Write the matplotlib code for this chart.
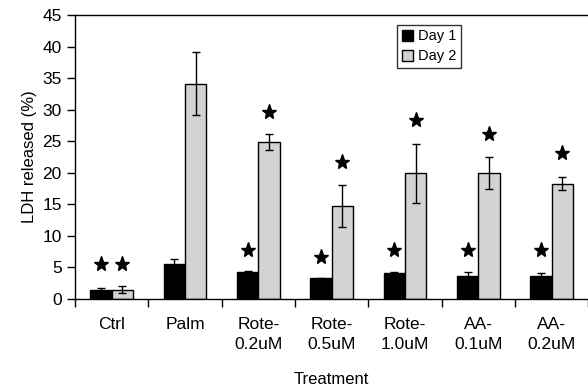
import matplotlib
matplotlib.use("Agg")
import matplotlib.pyplot as plt
import numpy as np

plt.rcParams['font.family'] = ['Liberation Sans', 'DejaVu Sans']

categories = ["Ctrl", "Palm", "Rote-\n0.2uM", "Rote-\n0.5uM", "Rote-\n1.0uM",
              "AA-\n0.1uM", "AA-\n0.2uM"]
day1 = [1.4, 5.5, 4.3, 3.3, 4.1, 3.7, 3.7]
day1_err = [0.4, 0.9, 0.2, 0.1, 0.1, 0.5, 0.4]
day2 = [1.5, 34.1, 24.9, 14.7, 19.9, 20.0, 18.3]
day2_err = [0.6, 5.0, 1.3, 3.3, 4.7, 2.5, 1.0]
# significance stars (y position, None = no star)
star1 = [5.5, None, 7.8, 6.7, 7.8, 7.8, 7.8]
star2 = [5.5, None, 29.6, 21.7, 28.3, 26.1, 23.1]

fig = plt.figure(figsize=(5.88, 3.91), dpi=100)
ax = fig.add_axes([0.1276, 0.2353, 0.873, 0.7263])

x = np.arange(len(categories)) + 0.5
w = 0.29
ax.bar(x - w / 2, day1, w, color="black", edgecolor="black", lw=1,
       label="Day 1", zorder=2)
ax.bar(x + w / 2, day2, w, color="#d3d3d3", edgecolor="black", lw=1,
       label="Day 2", zorder=2)
ax.errorbar(x - w / 2, day1, yerr=day1_err, fmt="none", ecolor="black",
            elinewidth=1, capsize=3, capthick=1, zorder=3)
ax.errorbar(x + w / 2, day2, yerr=day2_err, fmt="none", ecolor="black",
            elinewidth=1, capsize=3, capthick=1, zorder=3)

for i in range(len(categories)):
    if star1[i] is not None:
        ax.plot(x[i] - w / 2, star1[i], marker="*", color="black", ms=11,
                mec="black", ls="none", zorder=4)
    if star2[i] is not None:
        ax.plot(x[i] + w / 2, star2[i], marker="*", color="black", ms=11,
                mec="black", ls="none", zorder=4)

ax.set_xlim(0, len(categories))
ax.set_ylim(0, 45)
ax.set_yticks(np.arange(0, 46, 5))
ax.set_xticks(np.arange(0, len(categories) + 1))
ax.set_xticklabels([])
ax.set_xticks(x, minor=True)
ax.set_xticklabels(categories, minor=True, fontsize=12.5, linespacing=1.45)
ax.tick_params(axis="x", which="minor", length=0, pad=13)
ax.tick_params(axis="x", which="major", direction="out", length=6, width=1)
ax.tick_params(axis="y", direction="out", length=6, width=1, labelsize=12.5)
ax.spines["right"].set_visible(False)
for s in ["left", "bottom", "top"]:
    ax.spines[s].set_linewidth(1)

ax.set_ylabel("LDH released (%)", fontsize=12)
ax.set_xlabel("Treatment", fontsize=12, labelpad=14)

leg = ax.legend(loc="upper left", bbox_to_anchor=(0.628, 0.965),
                borderaxespad=0, fontsize=10.5, frameon=True, fancybox=False,
                handlelength=0.8, handleheight=0.8, handletextpad=0.3,
                borderpad=0.3, labelspacing=0.4)
leg.get_frame().set_edgecolor("black")
leg.get_frame().set_linewidth(1)

fig.savefig("out.png", dpi=100)
